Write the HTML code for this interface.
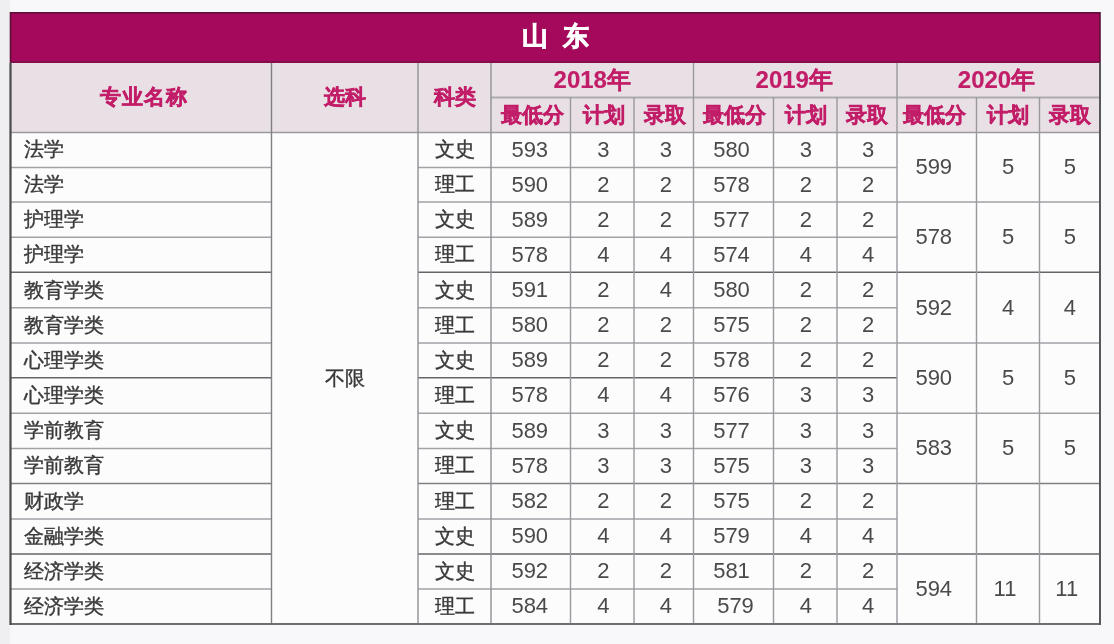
<!DOCTYPE html>
<html><head><meta charset="utf-8"><style>
html,body{margin:0;padding:0;}
body{width:1114px;height:644px;background:#f8f8fa;position:relative;overflow:hidden;font-family:"Liberation Sans",sans-serif;}
.wrap{position:absolute;left:0;top:0;width:1114px;height:644px;background:#f8f8fa;filter:blur(0.45px);}
.lm{position:absolute;left:0;top:0;width:10px;height:644px;background:#efeff1;}
.tbl{position:absolute;left:10.5px;top:12px;width:1089.5px;height:612px;background:#fcfcfd;}
.tb{position:absolute;left:10.5px;top:12px;width:1089.5px;height:50.8px;background:#a4095b;}
.hb{position:absolute;left:10.5px;top:62.8px;width:1089.5px;height:69.7px;background:#e8e0e5;}
.title{position:absolute;left:10.5px;top:12px;width:1089.5px;height:50.8px;display:flex;align-items:center;justify-content:center;padding-bottom:2px;box-sizing:border-box;color:#fff;font-weight:bold;font-size:26px;word-spacing:7.8px;white-space:pre;-webkit-text-stroke:0.7px #fff;}
.sp{display:inline-block;width:15px;}
.c{position:absolute;display:flex;align-items:center;justify-content:center;white-space:nowrap;}
.h{color:#c21d68;font-weight:bold;font-size:21px;-webkit-text-stroke:0.5px #c21d68;}
.yr{font-size:24px;-webkit-text-stroke:0.15px #c21d68;}
.sh{font-size:21px;}
.d{color:#3a3a3a;}
.nm{justify-content:flex-start;padding-left:13px;box-sizing:border-box;font-size:20px;-webkit-text-stroke:0.4px #3a3a3a;}
.cj{font-size:20px;-webkit-text-stroke:0.4px #3a3a3a;}
.n{font-size:22px;color:#4a4a4c;}
svg{position:absolute;left:0;top:0;}
</style></head><body>
<div class="wrap"><div class="lm"></div><div class="tbl"></div><div class="tb"></div><div class="hb"></div>
<div class="title">山 东</div>
<div class="c h" style="left:10.50px;top:62.80px;width:261.00px;height:69.70px;padding-left:5.0px;box-sizing:border-box;letter-spacing:1px;padding-bottom:2px;">专业名称</div>
<div class="c h" style="left:271.50px;top:62.80px;width:146.50px;height:69.70px;padding-bottom:2px;box-sizing:border-box;">选科</div>
<div class="c h" style="left:418.00px;top:62.80px;width:73.00px;height:69.70px;padding-bottom:2px;box-sizing:border-box;">科类</div>
<div class="c h yr" style="left:491.00px;top:62.80px;width:202.50px;height:34.50px;">2018年</div>
<div class="c h sh" style="left:491.00px;top:97.30px;width:79.50px;height:35.20px;padding-left:4px;box-sizing:border-box;">最低分</div>
<div class="c h sh" style="left:570.50px;top:97.30px;width:63.50px;height:35.20px;padding-left:4px;box-sizing:border-box;">计划</div>
<div class="c h sh" style="left:634.00px;top:97.30px;width:59.50px;height:35.20px;padding-left:3.0px;box-sizing:border-box;">录取</div>
<div class="c h yr" style="left:693.50px;top:62.80px;width:203.50px;height:34.50px;padding-right:2px;box-sizing:border-box;">2019年</div>
<div class="c h sh" style="left:693.50px;top:97.30px;width:80.00px;height:35.20px;padding-left:2px;box-sizing:border-box;">最低分</div>
<div class="c h sh" style="left:773.50px;top:97.30px;width:63.50px;height:35.20px;padding-left:2px;box-sizing:border-box;">计划</div>
<div class="c h sh" style="left:837.00px;top:97.30px;width:60.00px;height:35.20px;">录取</div>
<div class="c h yr" style="left:897.00px;top:62.80px;width:203.00px;height:34.50px;padding-right:4px;box-sizing:border-box;">2020年</div>
<div class="c h sh" style="left:897.00px;top:97.30px;width:79.50px;height:35.20px;padding-right:4px;box-sizing:border-box;">最低分</div>
<div class="c h sh" style="left:976.50px;top:97.30px;width:63.00px;height:35.20px;">计划</div>
<div class="c h sh" style="left:1039.50px;top:97.30px;width:60.50px;height:35.20px;">录取</div>
<div class="c d nm" style="left:10.50px;top:132.50px;width:261.00px;height:34.90px;">法学</div>
<div class="c d cj" style="left:418.00px;top:132.50px;width:73.00px;height:34.90px;">文史</div>
<div class="c d n" style="left:491.00px;top:132.50px;width:79.50px;height:34.90px;padding-right:2px;box-sizing:border-box;">593</div>
<div class="c d n" style="left:570.50px;top:132.50px;width:63.50px;height:34.90px;padding-left:2px;box-sizing:border-box;">3</div>
<div class="c d n" style="left:634.00px;top:132.50px;width:59.50px;height:34.90px;padding-left:4px;box-sizing:border-box;">3</div>
<div class="c d n" style="left:693.50px;top:132.50px;width:80.00px;height:34.90px;padding-right:4px;box-sizing:border-box;">580</div>
<div class="c d n" style="left:773.50px;top:132.50px;width:63.50px;height:34.90px;padding-left:1.0px;box-sizing:border-box;">3</div>
<div class="c d n" style="left:837.00px;top:132.50px;width:60.00px;height:34.90px;padding-left:2px;box-sizing:border-box;">3</div>
<div class="c d nm" style="left:10.50px;top:167.40px;width:261.00px;height:34.70px;">法学</div>
<div class="c d cj" style="left:418.00px;top:167.40px;width:73.00px;height:34.70px;">理工</div>
<div class="c d n" style="left:491.00px;top:167.40px;width:79.50px;height:34.70px;padding-right:2px;box-sizing:border-box;">590</div>
<div class="c d n" style="left:570.50px;top:167.40px;width:63.50px;height:34.70px;padding-left:2px;box-sizing:border-box;">2</div>
<div class="c d n" style="left:634.00px;top:167.40px;width:59.50px;height:34.70px;padding-left:4px;box-sizing:border-box;">2</div>
<div class="c d n" style="left:693.50px;top:167.40px;width:80.00px;height:34.70px;padding-right:4px;box-sizing:border-box;">578</div>
<div class="c d n" style="left:773.50px;top:167.40px;width:63.50px;height:34.70px;padding-left:1.0px;box-sizing:border-box;">2</div>
<div class="c d n" style="left:837.00px;top:167.40px;width:60.00px;height:34.70px;padding-left:2px;box-sizing:border-box;">2</div>
<div class="c d nm" style="left:10.50px;top:202.10px;width:261.00px;height:35.10px;">护理学</div>
<div class="c d cj" style="left:418.00px;top:202.10px;width:73.00px;height:35.10px;">文史</div>
<div class="c d n" style="left:491.00px;top:202.10px;width:79.50px;height:35.10px;padding-right:2px;box-sizing:border-box;">589</div>
<div class="c d n" style="left:570.50px;top:202.10px;width:63.50px;height:35.10px;padding-left:2px;box-sizing:border-box;">2</div>
<div class="c d n" style="left:634.00px;top:202.10px;width:59.50px;height:35.10px;padding-left:4px;box-sizing:border-box;">2</div>
<div class="c d n" style="left:693.50px;top:202.10px;width:80.00px;height:35.10px;padding-right:4px;box-sizing:border-box;">577</div>
<div class="c d n" style="left:773.50px;top:202.10px;width:63.50px;height:35.10px;padding-left:1.0px;box-sizing:border-box;">2</div>
<div class="c d n" style="left:837.00px;top:202.10px;width:60.00px;height:35.10px;padding-left:2px;box-sizing:border-box;">2</div>
<div class="c d nm" style="left:10.50px;top:237.20px;width:261.00px;height:35.10px;">护理学</div>
<div class="c d cj" style="left:418.00px;top:237.20px;width:73.00px;height:35.10px;">理工</div>
<div class="c d n" style="left:491.00px;top:237.20px;width:79.50px;height:35.10px;padding-right:2px;box-sizing:border-box;">578</div>
<div class="c d n" style="left:570.50px;top:237.20px;width:63.50px;height:35.10px;padding-left:2px;box-sizing:border-box;">4</div>
<div class="c d n" style="left:634.00px;top:237.20px;width:59.50px;height:35.10px;padding-left:4px;box-sizing:border-box;">4</div>
<div class="c d n" style="left:693.50px;top:237.20px;width:80.00px;height:35.10px;padding-right:4px;box-sizing:border-box;">574</div>
<div class="c d n" style="left:773.50px;top:237.20px;width:63.50px;height:35.10px;padding-left:1.0px;box-sizing:border-box;">4</div>
<div class="c d n" style="left:837.00px;top:237.20px;width:60.00px;height:35.10px;padding-left:2px;box-sizing:border-box;">4</div>
<div class="c d nm" style="left:10.50px;top:272.30px;width:261.00px;height:35.50px;">教育学类</div>
<div class="c d cj" style="left:418.00px;top:272.30px;width:73.00px;height:35.50px;">文史</div>
<div class="c d n" style="left:491.00px;top:272.30px;width:79.50px;height:35.50px;padding-right:2px;box-sizing:border-box;">591</div>
<div class="c d n" style="left:570.50px;top:272.30px;width:63.50px;height:35.50px;padding-left:2px;box-sizing:border-box;">2</div>
<div class="c d n" style="left:634.00px;top:272.30px;width:59.50px;height:35.50px;padding-left:4px;box-sizing:border-box;">4</div>
<div class="c d n" style="left:693.50px;top:272.30px;width:80.00px;height:35.50px;padding-right:4px;box-sizing:border-box;">580</div>
<div class="c d n" style="left:773.50px;top:272.30px;width:63.50px;height:35.50px;padding-left:1.0px;box-sizing:border-box;">2</div>
<div class="c d n" style="left:837.00px;top:272.30px;width:60.00px;height:35.50px;padding-left:2px;box-sizing:border-box;">2</div>
<div class="c d nm" style="left:10.50px;top:307.80px;width:261.00px;height:35.10px;">教育学类</div>
<div class="c d cj" style="left:418.00px;top:307.80px;width:73.00px;height:35.10px;">理工</div>
<div class="c d n" style="left:491.00px;top:307.80px;width:79.50px;height:35.10px;padding-right:2px;box-sizing:border-box;">580</div>
<div class="c d n" style="left:570.50px;top:307.80px;width:63.50px;height:35.10px;padding-left:2px;box-sizing:border-box;">2</div>
<div class="c d n" style="left:634.00px;top:307.80px;width:59.50px;height:35.10px;padding-left:4px;box-sizing:border-box;">2</div>
<div class="c d n" style="left:693.50px;top:307.80px;width:80.00px;height:35.10px;padding-right:4px;box-sizing:border-box;">575</div>
<div class="c d n" style="left:773.50px;top:307.80px;width:63.50px;height:35.10px;padding-left:1.0px;box-sizing:border-box;">2</div>
<div class="c d n" style="left:837.00px;top:307.80px;width:60.00px;height:35.10px;padding-left:2px;box-sizing:border-box;">2</div>
<div class="c d nm" style="left:10.50px;top:342.90px;width:261.00px;height:34.90px;">心理学类</div>
<div class="c d cj" style="left:418.00px;top:342.90px;width:73.00px;height:34.90px;">文史</div>
<div class="c d n" style="left:491.00px;top:342.90px;width:79.50px;height:34.90px;padding-right:2px;box-sizing:border-box;">589</div>
<div class="c d n" style="left:570.50px;top:342.90px;width:63.50px;height:34.90px;padding-left:2px;box-sizing:border-box;">2</div>
<div class="c d n" style="left:634.00px;top:342.90px;width:59.50px;height:34.90px;padding-left:4px;box-sizing:border-box;">2</div>
<div class="c d n" style="left:693.50px;top:342.90px;width:80.00px;height:34.90px;padding-right:4px;box-sizing:border-box;">578</div>
<div class="c d n" style="left:773.50px;top:342.90px;width:63.50px;height:34.90px;padding-left:1.0px;box-sizing:border-box;">2</div>
<div class="c d n" style="left:837.00px;top:342.90px;width:60.00px;height:34.90px;padding-left:2px;box-sizing:border-box;">2</div>
<div class="c d nm" style="left:10.50px;top:377.80px;width:261.00px;height:35.40px;">心理学类</div>
<div class="c d cj" style="left:418.00px;top:377.80px;width:73.00px;height:35.40px;">理工</div>
<div class="c d n" style="left:491.00px;top:377.80px;width:79.50px;height:35.40px;padding-right:2px;box-sizing:border-box;">578</div>
<div class="c d n" style="left:570.50px;top:377.80px;width:63.50px;height:35.40px;padding-left:2px;box-sizing:border-box;">4</div>
<div class="c d n" style="left:634.00px;top:377.80px;width:59.50px;height:35.40px;padding-left:4px;box-sizing:border-box;">4</div>
<div class="c d n" style="left:693.50px;top:377.80px;width:80.00px;height:35.40px;padding-right:4px;box-sizing:border-box;">576</div>
<div class="c d n" style="left:773.50px;top:377.80px;width:63.50px;height:35.40px;padding-left:1.0px;box-sizing:border-box;">3</div>
<div class="c d n" style="left:837.00px;top:377.80px;width:60.00px;height:35.40px;padding-left:2px;box-sizing:border-box;">3</div>
<div class="c d nm" style="left:10.50px;top:413.20px;width:261.00px;height:35.20px;">学前教育</div>
<div class="c d cj" style="left:418.00px;top:413.20px;width:73.00px;height:35.20px;">文史</div>
<div class="c d n" style="left:491.00px;top:413.20px;width:79.50px;height:35.20px;padding-right:2px;box-sizing:border-box;">589</div>
<div class="c d n" style="left:570.50px;top:413.20px;width:63.50px;height:35.20px;padding-left:2px;box-sizing:border-box;">3</div>
<div class="c d n" style="left:634.00px;top:413.20px;width:59.50px;height:35.20px;padding-left:4px;box-sizing:border-box;">3</div>
<div class="c d n" style="left:693.50px;top:413.20px;width:80.00px;height:35.20px;padding-right:4px;box-sizing:border-box;">577</div>
<div class="c d n" style="left:773.50px;top:413.20px;width:63.50px;height:35.20px;padding-left:1.0px;box-sizing:border-box;">3</div>
<div class="c d n" style="left:837.00px;top:413.20px;width:60.00px;height:35.20px;padding-left:2px;box-sizing:border-box;">3</div>
<div class="c d nm" style="left:10.50px;top:448.40px;width:261.00px;height:35.10px;">学前教育</div>
<div class="c d cj" style="left:418.00px;top:448.40px;width:73.00px;height:35.10px;">理工</div>
<div class="c d n" style="left:491.00px;top:448.40px;width:79.50px;height:35.10px;padding-right:2px;box-sizing:border-box;">578</div>
<div class="c d n" style="left:570.50px;top:448.40px;width:63.50px;height:35.10px;padding-left:2px;box-sizing:border-box;">3</div>
<div class="c d n" style="left:634.00px;top:448.40px;width:59.50px;height:35.10px;padding-left:4px;box-sizing:border-box;">3</div>
<div class="c d n" style="left:693.50px;top:448.40px;width:80.00px;height:35.10px;padding-right:4px;box-sizing:border-box;">575</div>
<div class="c d n" style="left:773.50px;top:448.40px;width:63.50px;height:35.10px;padding-left:1.0px;box-sizing:border-box;">3</div>
<div class="c d n" style="left:837.00px;top:448.40px;width:60.00px;height:35.10px;padding-left:2px;box-sizing:border-box;">3</div>
<div class="c d nm" style="left:10.50px;top:483.50px;width:261.00px;height:35.40px;">财政学</div>
<div class="c d cj" style="left:418.00px;top:483.50px;width:73.00px;height:35.40px;">理工</div>
<div class="c d n" style="left:491.00px;top:483.50px;width:79.50px;height:35.40px;padding-right:2px;box-sizing:border-box;">582</div>
<div class="c d n" style="left:570.50px;top:483.50px;width:63.50px;height:35.40px;padding-left:2px;box-sizing:border-box;">2</div>
<div class="c d n" style="left:634.00px;top:483.50px;width:59.50px;height:35.40px;padding-left:4px;box-sizing:border-box;">2</div>
<div class="c d n" style="left:693.50px;top:483.50px;width:80.00px;height:35.40px;padding-right:4px;box-sizing:border-box;">575</div>
<div class="c d n" style="left:773.50px;top:483.50px;width:63.50px;height:35.40px;padding-left:1.0px;box-sizing:border-box;">2</div>
<div class="c d n" style="left:837.00px;top:483.50px;width:60.00px;height:35.40px;padding-left:2px;box-sizing:border-box;">2</div>
<div class="c d nm" style="left:10.50px;top:518.90px;width:261.00px;height:35.10px;">金融学类</div>
<div class="c d cj" style="left:418.00px;top:518.90px;width:73.00px;height:35.10px;">文史</div>
<div class="c d n" style="left:491.00px;top:518.90px;width:79.50px;height:35.10px;padding-right:2px;box-sizing:border-box;">590</div>
<div class="c d n" style="left:570.50px;top:518.90px;width:63.50px;height:35.10px;padding-left:2px;box-sizing:border-box;">4</div>
<div class="c d n" style="left:634.00px;top:518.90px;width:59.50px;height:35.10px;padding-left:4px;box-sizing:border-box;">4</div>
<div class="c d n" style="left:693.50px;top:518.90px;width:80.00px;height:35.10px;padding-right:4px;box-sizing:border-box;">579</div>
<div class="c d n" style="left:773.50px;top:518.90px;width:63.50px;height:35.10px;padding-left:1.0px;box-sizing:border-box;">4</div>
<div class="c d n" style="left:837.00px;top:518.90px;width:60.00px;height:35.10px;padding-left:2px;box-sizing:border-box;">4</div>
<div class="c d nm" style="left:10.50px;top:554.00px;width:261.00px;height:34.90px;">经济学类</div>
<div class="c d cj" style="left:418.00px;top:554.00px;width:73.00px;height:34.90px;">文史</div>
<div class="c d n" style="left:491.00px;top:554.00px;width:79.50px;height:34.90px;padding-right:2px;box-sizing:border-box;">592</div>
<div class="c d n" style="left:570.50px;top:554.00px;width:63.50px;height:34.90px;padding-left:2px;box-sizing:border-box;">2</div>
<div class="c d n" style="left:634.00px;top:554.00px;width:59.50px;height:34.90px;padding-left:4px;box-sizing:border-box;">2</div>
<div class="c d n" style="left:693.50px;top:554.00px;width:80.00px;height:34.90px;padding-right:4px;box-sizing:border-box;">581</div>
<div class="c d n" style="left:773.50px;top:554.00px;width:63.50px;height:34.90px;padding-left:1.0px;box-sizing:border-box;">2</div>
<div class="c d n" style="left:837.00px;top:554.00px;width:60.00px;height:34.90px;padding-left:2px;box-sizing:border-box;">2</div>
<div class="c d nm" style="left:10.50px;top:588.90px;width:261.00px;height:35.10px;">经济学类</div>
<div class="c d cj" style="left:418.00px;top:588.90px;width:73.00px;height:35.10px;">理工</div>
<div class="c d n" style="left:491.00px;top:588.90px;width:79.50px;height:35.10px;padding-right:2px;box-sizing:border-box;">584</div>
<div class="c d n" style="left:570.50px;top:588.90px;width:63.50px;height:35.10px;padding-left:2px;box-sizing:border-box;">4</div>
<div class="c d n" style="left:634.00px;top:588.90px;width:59.50px;height:35.10px;padding-left:4px;box-sizing:border-box;">4</div>
<div class="c d n" style="left:693.50px;top:588.90px;width:80.00px;height:35.10px;padding-left:4px;box-sizing:border-box;">579</div>
<div class="c d n" style="left:773.50px;top:588.90px;width:63.50px;height:35.10px;padding-left:1.0px;box-sizing:border-box;">4</div>
<div class="c d n" style="left:837.00px;top:588.90px;width:60.00px;height:35.10px;padding-left:2px;box-sizing:border-box;">4</div>
<div class="c d cj" style="left:271.50px;top:132.50px;width:146.50px;height:491.50px;">不限</div>
<div class="c d n" style="left:897.00px;top:132.50px;width:79.50px;height:69.60px;padding-right:6px;box-sizing:border-box;">599</div>
<div class="c d n" style="left:976.50px;top:132.50px;width:63.00px;height:69.60px;">5</div>
<div class="c d n" style="left:1039.50px;top:132.50px;width:60.50px;height:69.60px;">5</div>
<div class="c d n" style="left:897.00px;top:202.10px;width:79.50px;height:70.20px;padding-right:6px;box-sizing:border-box;">578</div>
<div class="c d n" style="left:976.50px;top:202.10px;width:63.00px;height:70.20px;">5</div>
<div class="c d n" style="left:1039.50px;top:202.10px;width:60.50px;height:70.20px;">5</div>
<div class="c d n" style="left:897.00px;top:272.30px;width:79.50px;height:70.60px;padding-right:6px;box-sizing:border-box;">592</div>
<div class="c d n" style="left:976.50px;top:272.30px;width:63.00px;height:70.60px;">4</div>
<div class="c d n" style="left:1039.50px;top:272.30px;width:60.50px;height:70.60px;">4</div>
<div class="c d n" style="left:897.00px;top:342.90px;width:79.50px;height:70.30px;padding-right:6px;box-sizing:border-box;">590</div>
<div class="c d n" style="left:976.50px;top:342.90px;width:63.00px;height:70.30px;">5</div>
<div class="c d n" style="left:1039.50px;top:342.90px;width:60.50px;height:70.30px;">5</div>
<div class="c d n" style="left:897.00px;top:413.20px;width:79.50px;height:70.30px;padding-right:6px;box-sizing:border-box;">583</div>
<div class="c d n" style="left:976.50px;top:413.20px;width:63.00px;height:70.30px;">5</div>
<div class="c d n" style="left:1039.50px;top:413.20px;width:60.50px;height:70.30px;">5</div>
<div class="c d n" style="left:897.00px;top:554.00px;width:79.50px;height:70.00px;padding-right:6px;box-sizing:border-box;">594</div>
<div class="c d n" style="left:976.50px;top:554.00px;width:63.00px;height:70.00px;padding-right:6px;box-sizing:border-box;">11</div>
<div class="c d n" style="left:1039.50px;top:554.00px;width:60.50px;height:70.00px;padding-right:6px;box-sizing:border-box;">11</div>
<svg width="1114" height="644" viewBox="0 0 1114 644">
<line x1="491" y1="97.50" x2="1100" y2="97.50" stroke="#ababaf" stroke-width="2.2"/>
<line x1="10.5" y1="132.50" x2="1100" y2="132.50" stroke="#9a9a9e" stroke-width="1.5"/>
<line x1="10.5" y1="167.40" x2="271.5" y2="167.40" stroke="#a2a2a6" stroke-width="1.5"/>
<line x1="418" y1="167.40" x2="897" y2="167.40" stroke="#a2a2a6" stroke-width="1.5"/>
<line x1="10.5" y1="202.10" x2="271.5" y2="202.10" stroke="#a2a2a6" stroke-width="1.5"/>
<line x1="418" y1="202.10" x2="897" y2="202.10" stroke="#a2a2a6" stroke-width="1.5"/>
<line x1="10.5" y1="237.20" x2="271.5" y2="237.20" stroke="#a2a2a6" stroke-width="1.5"/>
<line x1="418" y1="237.20" x2="897" y2="237.20" stroke="#a2a2a6" stroke-width="1.5"/>
<line x1="10.5" y1="272.30" x2="271.5" y2="272.30" stroke="#66666a" stroke-width="1.5"/>
<line x1="418" y1="272.30" x2="897" y2="272.30" stroke="#66666a" stroke-width="1.5"/>
<line x1="10.5" y1="307.80" x2="271.5" y2="307.80" stroke="#a2a2a6" stroke-width="1.5"/>
<line x1="418" y1="307.80" x2="897" y2="307.80" stroke="#a2a2a6" stroke-width="1.5"/>
<line x1="10.5" y1="342.90" x2="271.5" y2="342.90" stroke="#a2a2a6" stroke-width="1.5"/>
<line x1="418" y1="342.90" x2="897" y2="342.90" stroke="#a2a2a6" stroke-width="1.5"/>
<line x1="10.5" y1="377.80" x2="271.5" y2="377.80" stroke="#66666a" stroke-width="1.5"/>
<line x1="418" y1="377.80" x2="897" y2="377.80" stroke="#66666a" stroke-width="1.5"/>
<line x1="10.5" y1="413.20" x2="271.5" y2="413.20" stroke="#a2a2a6" stroke-width="1.5"/>
<line x1="418" y1="413.20" x2="897" y2="413.20" stroke="#a2a2a6" stroke-width="1.5"/>
<line x1="10.5" y1="448.40" x2="271.5" y2="448.40" stroke="#a2a2a6" stroke-width="1.5"/>
<line x1="418" y1="448.40" x2="897" y2="448.40" stroke="#a2a2a6" stroke-width="1.5"/>
<line x1="10.5" y1="483.50" x2="271.5" y2="483.50" stroke="#808084" stroke-width="1.5"/>
<line x1="418" y1="483.50" x2="897" y2="483.50" stroke="#808084" stroke-width="1.5"/>
<line x1="10.5" y1="518.90" x2="271.5" y2="518.90" stroke="#a2a2a6" stroke-width="1.5"/>
<line x1="418" y1="518.90" x2="897" y2="518.90" stroke="#a2a2a6" stroke-width="1.5"/>
<line x1="10.5" y1="554.00" x2="271.5" y2="554.00" stroke="#66666a" stroke-width="1.5"/>
<line x1="418" y1="554.00" x2="897" y2="554.00" stroke="#66666a" stroke-width="1.5"/>
<line x1="10.5" y1="588.90" x2="271.5" y2="588.90" stroke="#a2a2a6" stroke-width="1.5"/>
<line x1="418" y1="588.90" x2="897" y2="588.90" stroke="#a2a2a6" stroke-width="1.5"/>
<line x1="897" y1="202.10" x2="1100" y2="202.10" stroke="#a2a2a6" stroke-width="1.5"/>
<line x1="897" y1="272.30" x2="1100" y2="272.30" stroke="#66666a" stroke-width="1.5"/>
<line x1="897" y1="342.90" x2="1100" y2="342.90" stroke="#a2a2a6" stroke-width="1.5"/>
<line x1="897" y1="413.20" x2="1100" y2="413.20" stroke="#a2a2a6" stroke-width="1.5"/>
<line x1="897" y1="483.50" x2="1100" y2="483.50" stroke="#808084" stroke-width="1.5"/>
<line x1="897" y1="554.00" x2="1100" y2="554.00" stroke="#66666a" stroke-width="1.5"/>
<line x1="271.5" y1="62.80" x2="271.5" y2="624.00" stroke="#808084" stroke-width="1.4"/>
<line x1="418" y1="62.80" x2="418" y2="624.00" stroke="#909094" stroke-width="1.4"/>
<line x1="491" y1="62.80" x2="491" y2="624.00" stroke="#909094" stroke-width="1.4"/>
<line x1="570.5" y1="97.30" x2="570.5" y2="624.00" stroke="#9a9a9e" stroke-width="1.4"/>
<line x1="634" y1="97.30" x2="634" y2="624.00" stroke="#9a9a9e" stroke-width="1.4"/>
<line x1="773.5" y1="97.30" x2="773.5" y2="624.00" stroke="#9a9a9e" stroke-width="1.4"/>
<line x1="837" y1="97.30" x2="837" y2="624.00" stroke="#9a9a9e" stroke-width="1.4"/>
<line x1="976.5" y1="97.30" x2="976.5" y2="624.00" stroke="#9a9a9e" stroke-width="1.4"/>
<line x1="1039.5" y1="97.30" x2="1039.5" y2="624.00" stroke="#9a9a9e" stroke-width="1.4"/>
<line x1="693.5" y1="62.80" x2="693.5" y2="624.00" stroke="#9a9a9e" stroke-width="1.4"/>
<line x1="897" y1="62.80" x2="897" y2="624.00" stroke="#9a9a9e" stroke-width="1.4"/>
<line x1="10.5" y1="62.00" x2="1100" y2="62.00" stroke="#7a1048" stroke-width="1.4"/>
<line x1="10.5" y1="624" x2="1100" y2="624" stroke="#6e6e70" stroke-width="2"/>
<line x1="10.5" y1="62.8" x2="10.5" y2="625" stroke="#4a4a4c" stroke-width="2.2"/>
<line x1="1100" y1="62.8" x2="1100" y2="625" stroke="#58585c" stroke-width="2"/>
<path d="M10.5 62.8 V12.7 H1100 V62.8" fill="none" stroke="#5a1038" stroke-width="1.6"/>
</svg>
</div>
</body></html>
